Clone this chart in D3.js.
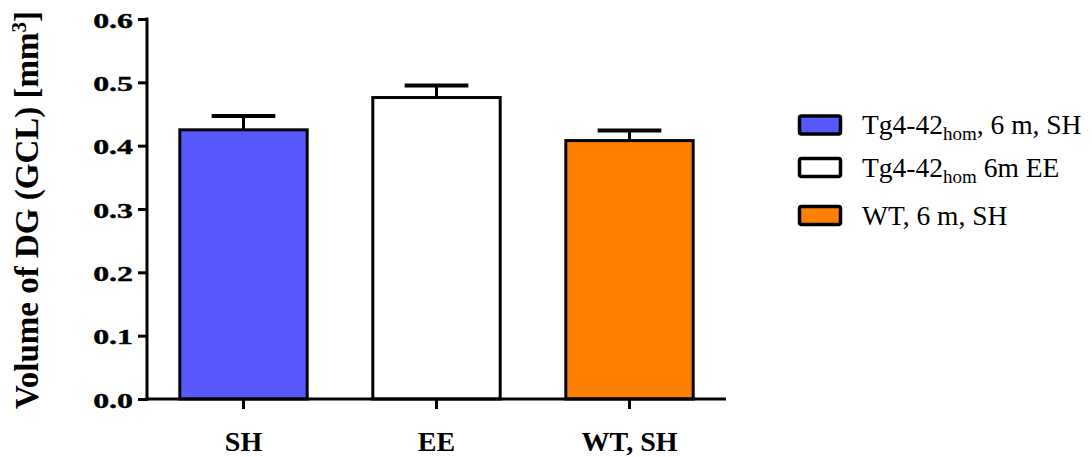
<!DOCTYPE html>
<html>
<head>
<meta charset="utf-8">
<script src="https://cdn.jsdelivr.net/npm/d3@7"></script>
<style>
  html, body { margin: 0; padding: 0; background: #fff; }
  svg { display: block; }
  text { font-family: "Liberation Serif", "Times New Roman", serif; fill: #000; }
</style>
</head>
<body>
<svg id="chart" width="1092" height="457"></svg>
<script>
// ---- data ----
const categories = ["SH", "EE", "WT, SH"];
const means = [0.425, 0.476, 0.408];
const sems = [0.022, 0.019, 0.016];
const barColors = ["#5858FF", "#FFFFFF", "#FF8000"];
const yTicks = [0.0, 0.1, 0.2, 0.3, 0.4, 0.5, 0.6];
const legendMain = ["Tg4-42", "Tg4-42", "WT, 6 m, SH"];
const legendSub = ["hom", "hom", ""];
const legendRest = [", 6 m, SH", " 6m EE", ""];

const svg = d3.select("#chart");
const X0 = 147, X1 = 726, Y0 = 399, Y1 = 19;

const x = d3.scaleBand().domain(categories).range([X0, X1]).padding(0);
const y = d3.scaleLinear().domain([0, 0.6]).range([Y0, Y1]);

const barW = x.bandwidth() * 0.66;

// bars
svg.append("g").selectAll("rect")
  .data(categories)
  .join("rect")
  .attr("x", d => x(d) + (x.bandwidth() - barW) / 2)
  .attr("y", (d, i) => y(means[i]))
  .attr("width", barW)
  .attr("height", (d, i) => y(0) - y(means[i]))
  .attr("fill", (d, i) => barColors[i])
  .attr("stroke", "#000")
  .attr("stroke-width", 3);

// error bars (upper only)
const eg = svg.append("g").attr("stroke", "#000");
categories.forEach((c, i) => {
  const cx = x(c) + x.bandwidth() / 2;
  eg.append("line")
    .attr("x1", cx).attr("x2", cx)
    .attr("y1", y(means[i])).attr("y2", y(means[i] + sems[i]))
    .attr("stroke-width", 3);
  eg.append("line")
    .attr("x1", cx - barW / 4).attr("x2", cx + barW / 4)
    .attr("y1", y(means[i] + sems[i])).attr("y2", y(means[i] + sems[i]))
    .attr("stroke-width", 4);
});

// y axis
const yAxis = svg.append("g")
  .attr("transform", `translate(${X0},0)`)
  .call(d3.axisLeft(y).tickValues(yTicks).tickFormat(d3.format(".1f")).tickSize(9).tickSizeOuter(0).tickPadding(5));
yAxis.select(".domain").attr("stroke-width", 3).attr("d", `M0,${Y1 - 1.5}V${Y0 + 1.5}`);
yAxis.selectAll(".tick line").attr("stroke-width", 3);
yAxis.selectAll(".tick text")
  .attr("font-family", "Liberation Serif, serif")
  .attr("font-weight", "bold")
  .attr("font-size", 22)
  .attr("stroke", "#000")
  .attr("stroke-width", 0.4)
  .each(function() {
    const t = d3.select(this);
    const xx = +t.attr("x");
    t.attr("x", 0).attr("transform", `translate(${xx},1) scale(1.45,1)`);
  });

// x axis
const xAxis = svg.append("g")
  .attr("transform", `translate(0,${Y0})`)
  .call(d3.axisBottom(x).tickSize(10).tickSizeOuter(0).tickPadding(22));
xAxis.select(".domain").attr("stroke-width", 3).attr("d", `M${X0 - 1.5},0H${X1}`);
xAxis.selectAll(".tick line").attr("stroke-width", 3);
xAxis.selectAll(".tick text")
  .attr("font-family", "Liberation Serif, serif")
  .attr("font-weight", "bold")
  .attr("font-size", 28);

// y title
const yt = svg.append("text")
  .attr("transform", "translate(38,210) rotate(-90)")
  .attr("text-anchor", "middle")
  .attr("font-weight", "bold")
  .attr("font-size", 33);
yt.append("tspan").text("Volume of DG (GCL) [mm");
yt.append("tspan").attr("font-size", 21).attr("dy", -12).text("3");
yt.append("tspan").attr("dy", 12).text("]");

// legend
const legY = [125, 167.5, 215.5];
const lg = svg.append("g");
categories.forEach((c, i) => {
  lg.append("rect")
    .attr("x", 799.5).attr("y", legY[i] - 9)
    .attr("width", 41).attr("height", 18)
    .attr("rx", 2)
    .attr("fill", barColors[i])
    .attr("stroke", "#000")
    .attr("stroke-width", 3.5);
  const t = lg.append("text")
    .attr("x", 862).attr("y", legY[i] + 9)
    .attr("font-size", 27.5);
  t.append("tspan").text(legendMain[i]);
  if (legendSub[i]) {
    t.append("tspan").attr("font-size", 19).attr("dy", 6).text(legendSub[i]);
    t.append("tspan").attr("dy", -6).text(legendRest[i]);
  }
});
</script>
</body>
</html>
